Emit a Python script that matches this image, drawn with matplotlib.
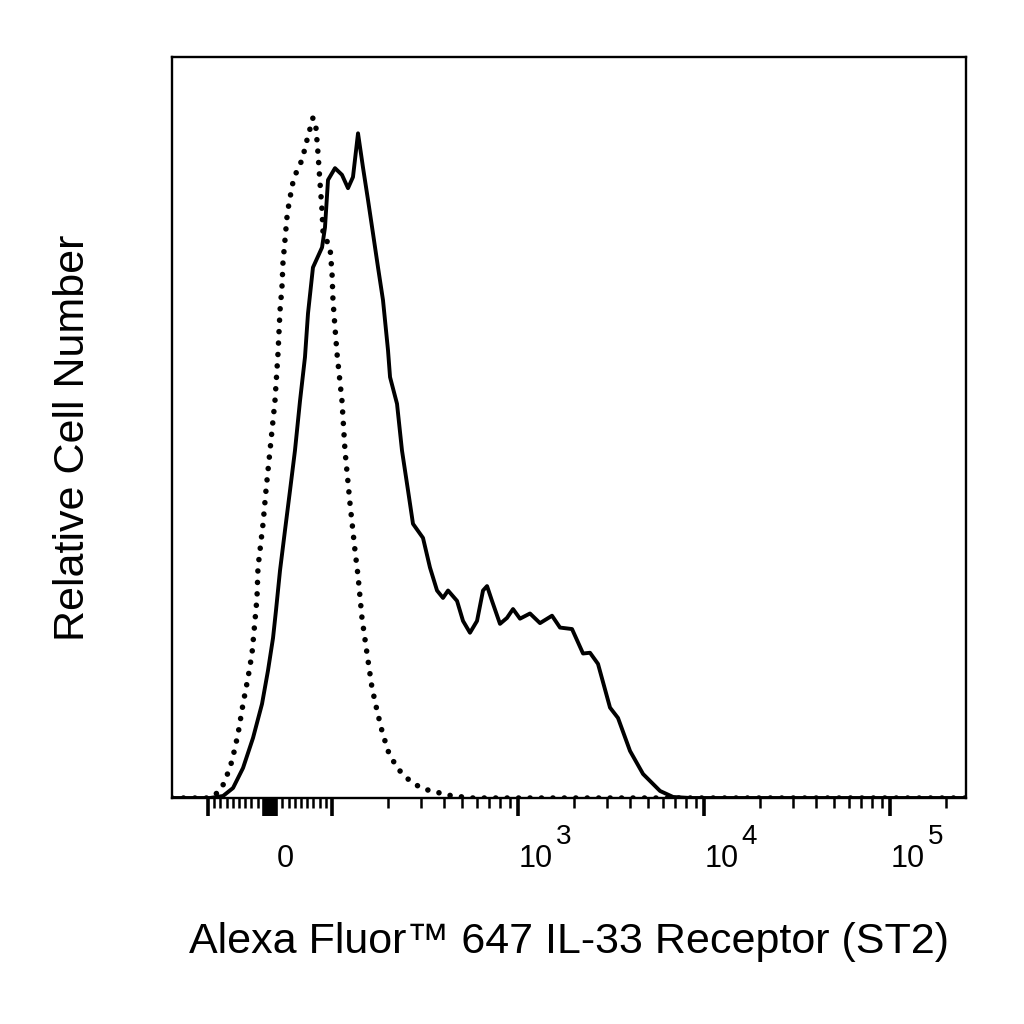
import numpy as np
import matplotlib.pyplot as plt
from matplotlib.transforms import offset_copy

plt.rcParams['font.family'] = ['Liberation Sans', 'DejaVu Sans']

# --- data: histogram traces, x in display channels (0-1024), y = relative cell number (% of max scale)
stained_ch = [0, 36.1, 49.0, 65.8, 78.7, 91.6, 104.5, 116.1, 123.8, 130.3, 134.1, 139.3, 145.7,
              152.2, 158.6, 165.1, 171.5, 175.4, 181.8, 193.5, 197.3, 201.2, 210.2, 219.2, 227.0,
              233.4, 239.9, 246.3, 252.8, 259.2, 265.7, 272.1, 278.6, 281.2, 290.2, 296.6, 304.4,
              310.8, 323.7, 332.7, 341.8, 349.5, 356.0, 367.6, 375.3, 384.3, 393.4, 401.1, 406.3,
              412.7, 423.0, 432.0, 439.8, 448.8, 461.7, 474.6, 490.1, 500.4, 515.9, 530.1, 539.1,
              549.4, 564.9, 575.2, 590.7, 607.5, 629.4, 646.2, 668.1, 1024]
stained_y = [0, 0, 0, 0.27, 1.35, 4.05, 8.11, 12.7, 17.2, 21.6, 25.3, 30.7, 36.1,
             41.5, 46.9, 53.6, 59.5, 65.4, 71.6, 74.3, 77.0, 83.4, 85.0, 84.1, 82.3,
             83.8, 89.7, 85.1, 80.7, 76.2, 71.6, 67.2, 60.4, 56.8, 53.2, 46.9, 41.5,
             37.0, 35.1, 31.1, 28.0, 27.0, 28.0, 26.6, 23.9, 22.3, 23.9, 28.0, 28.6,
             26.6, 23.5, 24.3, 25.5, 24.2, 24.9, 23.6, 24.6, 23.0, 22.8, 19.5, 19.6,
             18.1, 12.2, 10.8, 6.35, 3.24, 0.95, 0.14, 0, 0]

isotype_ch = [0, 36.1, 49.0, 61.9, 68.4, 77.4, 85.1, 91.6, 98.0, 103.2, 107.0, 109.6, 110.9,
              117.4, 121.2, 126.4, 132.8, 136.7, 139.3, 141.8, 143.1, 145.7, 148.3, 150.9,
              156.0, 161.2, 167.7, 174.1, 181.8, 185.7, 188.3, 190.9, 193.5, 194.8, 203.8,
              206.4, 207.6, 210.2, 212.8, 219.2, 223.1, 229.6, 236.0, 239.9, 245.0, 251.5,
              257.9, 264.4, 270.8, 278.6, 290.2, 306.9, 323.7, 336.6, 349.5, 362.4, 388.2, 1024]
isotype_y = [0, 0, 0, 0.95, 2.3, 5.0, 8.6, 12.7, 16.2, 19.5, 23.9, 27.0, 31.1,
             37.0, 41.5, 46.9, 53.6, 60.0, 65.8, 68.9, 72.2, 75.3, 78.4, 80.3,
             83.1, 84.7, 86.1, 88.8, 91.8, 90.4, 87.0, 83.0, 79.3, 76.2, 74.3,
             70.8, 67.2, 63.5, 60.0, 53.6, 46.9, 39.7, 33.4, 30.0, 24.3, 19.5,
             14.9, 11.8, 9.05, 6.35, 4.05, 2.3, 1.2, 0.95, 0.54, 0.27, 0, 0]

# axis decorations
major_vals = [-100, 100, 1e3, 1e4, 1e5]
zero_block = [-10, -7.5, -5, -2.5, 0, 2.5, 5, 7.5, 10]
minor_vals = ([-v for v in range(20, 100, 10)] + list(range(20, 100, 10))
              + [m * d for d in (100, 1000, 10000) for m in range(2, 10)] + [2e5])
label_vals = [0, 1e3, 1e4, 1e5]
label_base = ['0', '10', '10', '10']
label_exp = ['', '3', '4', '5']


def biex(v):
    # approx. biexponential display: linear around 0, log above |100|
    v = np.asarray(v, dtype=float)
    a = np.abs(v)
    out = np.where(a <= 100, 0.8 * a, 80 + 240 * np.log10(np.maximum(a, 100) / 100))
    return 126.4 + np.sign(v) * out


fig = plt.figure(figsize=(10.24, 10.24), dpi=100)
ax = fig.add_axes([172 / 1024, 1 - 798 / 1024, 794 / 1024, 741 / 1024])

ax.plot(isotype_ch, isotype_y, color='black', linewidth=4.0,
        linestyle=(0, (0.01, 2.05)), dash_capstyle='round')
ax.plot(stained_ch, stained_y, color='black', linewidth=2.8, solid_joinstyle='round')

ax.set_xlim(0, 1024)
ax.set_ylim(0, 100)
for s in ax.spines.values():
    s.set_linewidth(1.7)

ax.set_yticks([])
ax.set_xticks(biex(major_vals + zero_block))
ax.set_xticks(biex(minor_vals), minor=True)
ax.tick_params(axis='x', which='major', direction='out', length=13, width=2.6,
               labelbottom=False)
ax.tick_params(axis='x', which='minor', direction='out', length=7, width=1.8)

xt = ax.get_xaxis_transform()
for v, base, ex in zip(label_vals, label_base, label_exp):
    dx = 5 if ex == '' else 0
    ax.text(biex(v), -0.093, base, fontsize=22, ha='left', va='baseline',
            transform=offset_copy(xt, fig=fig, x=dx, units='points'))
    if ex:
        ax.text(biex(v), -0.062, ex, fontsize=20, ha='left', va='baseline',
                transform=offset_copy(xt, fig=fig, x=27, units='points'))

ax.set_xlabel('Alexa Fluor\u2122 647 IL-33 Receptor (ST2)', fontsize=31)
ax.xaxis.set_label_coords(0.5, -0.167)
ax.set_ylabel('Relative Cell Number', fontsize=31)
ax.yaxis.set_label_coords(-0.0995, 0.4865)

fig.savefig('out.png', dpi=100, facecolor='white')
